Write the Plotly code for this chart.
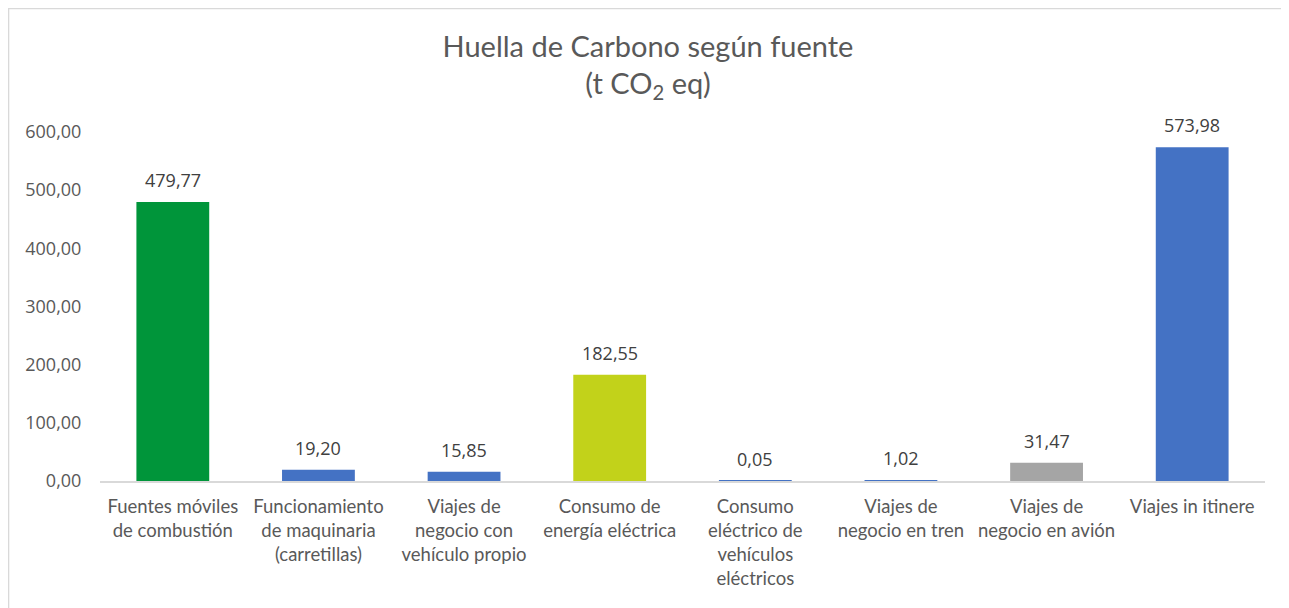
import plotly.graph_objects as go

# Datos del gráfico
categorias = [
    "Fuentes móviles<br>de combustión",
    "Funcionamiento<br>de maquinaria<br>(carretillas)",
    "Viajes de<br>negocio con<br>vehículo propio",
    "Consumo de<br>energía eléctrica",
    "Consumo<br>eléctrico de<br>vehículos<br>eléctricos",
    "Viajes de<br>negocio en tren",
    "Viajes de<br>negocio en avión",
    "Viajes in itinere",
]
valores = [479.77, 19.20, 15.85, 182.55, 0.05, 1.02, 31.47, 573.98]
colores = ["#00953A", "#4472C4", "#4472C4", "#C2D21A",
           "#4472C4", "#4472C4", "#A5A5A5", "#4472C4"]
ticks_y = [0, 100, 200, 300, 400, 500, 600]

fig = go.Figure()

fig.add_trace(go.Bar(x=categorias, y=valores,
                     marker=dict(color=colores, line=dict(width=0))))

# Etiquetas de valor encima de cada barra
for cat, val in zip(categorias, valores):
    fig.add_annotation(x=cat, y=val, text=f"{val:.2f}".replace(".", ","),
                       showarrow=False, yanchor="bottom", yshift=8,
                       font=dict(family="Open Sans", size=18, color="#404040"))

# Marco gris claro alrededor del gráfico
fig.add_shape(type="rect", xref="paper", yref="paper",
              x0=-0.0785, x1=1.1, y0=-0.5, y1=1.354,
              line=dict(color="#D9D9D9", width=1.5))

fig.update_layout(
    title=dict(text="Huella de Carbono según fuente<br>(t CO<sub>2</sub> eq)",
               x=0.4965, xanchor="center", y=0.92, yanchor="top",
               font=dict(family="Lato", size=29, color="#595959")),
    separators=",.",
    width=1289, height=608,
    margin=dict(l=92, r=32, t=124, b=135),
    plot_bgcolor="white", paper_bgcolor="white",
    showlegend=False,
    bargap=0.5,
    xaxis=dict(showline=True, linecolor="#D9D9D9", linewidth=1.5,
               ticks="outside", ticklen=8, tickcolor="rgba(0,0,0,0)",
               showgrid=False, tickangle=0,
               tickfont=dict(family="Lato", size=18.5, color="#595959")),
    yaxis=dict(range=[0, 600], tickvals=ticks_y, tickformat=".2f",
               showgrid=False, zeroline=False, showline=False,
               ticks="outside", ticklen=14, tickcolor="rgba(0,0,0,0)",
               tickfont=dict(family="Open Sans", size=18, color="#595959")),
)

fig.write_html("out.html")
